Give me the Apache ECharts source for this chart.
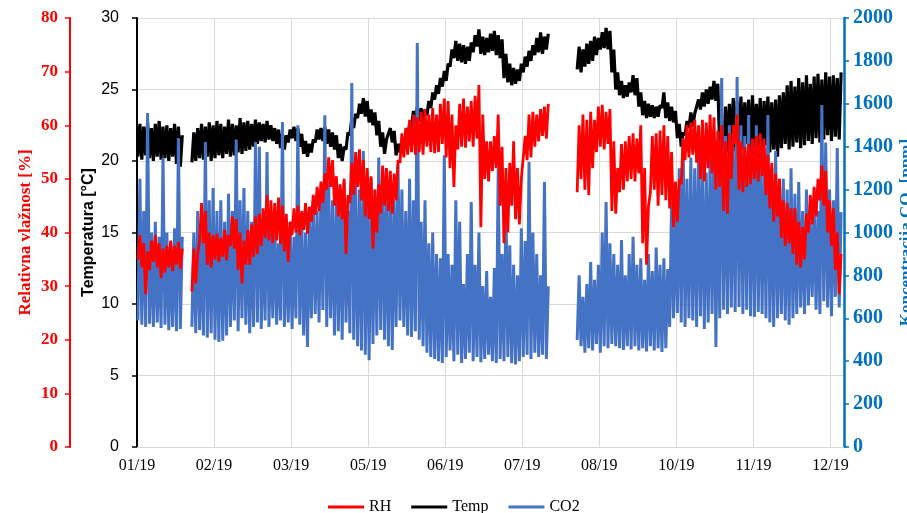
<!DOCTYPE html>
<html><head><meta charset="utf-8">
<script src="https://cdn.jsdelivr.net/npm/echarts@6/dist/echarts.min.js"></script>
<style>html,body{margin:0;padding:0;background:#fff}#c{width:907px;height:513px}</style>
</head><body><div id="c"></div>
<script>
// x axis: days since 01.01.2019, one tick every 40 days
const xTickLabels = ['01/19','02/19','03/19','05/19','06/19','07/19','08/19','10/19','11/19','12/19'];
// each index = 2-day block; low / high reading within the block
const tempLow = [
20.3,20.1,20.4,20.2,20.0,20.3,20.1,20.2,20.0,20.3,
19.8,19.6,null,null,19.9,20.0,20.2,20.1,20.3,20.0,
20.2,20.4,20.2,20.5,20.3,20.4,20.6,20.5,20.7,20.8,
21.0,21.2,21.4,21.3,21.5,21.4,21.2,20.9,20.8,21.3,
21.6,21.4,21.0,20.5,20.3,20.6,21.3,21.5,21.4,21.2,
21.0,20.8,20.2,20.0,20.8,21.8,22.3,23.0,23.3,23.1,
22.7,22.5,21.8,21.0,20.5,21.4,21.3,20.4,20.6,21.0,
21.6,22.4,22.6,22.8,22.7,23.2,23.7,24.3,24.7,25.2,
25.6,26.6,27.2,27.0,26.9,26.8,27.0,27.6,28.0,27.5,
27.4,27.6,27.7,27.4,27.2,25.8,25.5,25.3,25.4,25.6,
26.2,26.6,27.0,27.4,27.6,27.5,27.8,null,null,null,
null,null,null,null,26.4,26.2,26.6,26.8,27.0,27.4,
27.8,27.9,27.8,26.2,25.0,24.6,24.4,24.5,24.8,24.6,
23.8,23.2,23.0,23.1,23.0,23.1,23.7,23.0,22.8,22.7,
21.6,21.0,21.8,22.3,22.4,23.3,23.6,23.8,24.0,24.3,
24.2,20.9,20.8,20.6,21.0,20.7,21.0,20.8,21.2,20.5,
21.0,20.9,20.4,21.1,20.6,20.8,20.3,20.9,21.2,20.8,
21.0,21.3,20.9,21.1,21.4,21.2,21.6,21.3,21.5,21.8,
21.4,21.7,21.5];
const tempHigh = [
22.6,22.4,22.7,22.3,22.6,22.8,22.4,22.5,22.3,22.6,
22.4,21.8,null,null,22.0,22.3,22.6,22.4,22.7,22.5,
22.8,22.6,22.4,22.9,22.6,22.5,23.0,22.7,22.8,22.6,
22.9,22.7,22.6,22.8,22.5,22.3,22.2,21.9,21.8,22.2,
22.4,22.3,21.9,21.4,21.2,21.5,22.2,22.3,22.4,22.2,
22.0,21.8,21.2,21.0,22.0,23.0,23.3,24.0,24.4,24.2,
23.6,23.4,22.8,22.0,21.5,22.3,22.1,21.2,21.5,21.8,
22.6,23.5,23.8,23.7,23.6,24.2,24.8,25.3,25.8,26.3,
26.8,27.8,28.4,28.2,28.1,28.0,28.3,28.8,29.2,28.7,
28.6,28.9,29.1,28.8,28.5,27.5,26.8,26.5,26.4,26.8,
27.3,27.7,28.1,28.6,29.0,28.7,28.9,null,null,null,
null,null,null,null,28.0,27.8,28.2,28.4,28.7,28.6,
29.0,29.3,29.1,27.8,26.2,25.6,25.3,25.5,26.0,25.8,
24.8,24.2,24.0,23.9,23.8,23.9,24.8,24.1,23.8,23.5,
22.6,22.0,22.8,23.4,23.3,24.3,24.8,25.0,25.2,25.6,
25.4,22.4,23.8,24.0,24.4,24.2,24.5,24.1,24.3,24.6,
24.0,24.4,24.2,24.5,24.1,24.3,24.6,24.8,25.3,25.6,
25.2,25.8,25.5,26.0,25.4,25.9,26.1,25.7,26.2,25.9,
26.0,25.8,26.2];
const rhLow = [
35.0,33.5,28.5,33.0,34.5,33.5,31.5,32.5,33.5,32.8,
34.0,33.2,null,null,29.0,30.5,38.5,38.0,34.0,33.5,
35.0,34.5,35.5,34.8,37.5,37.0,33.0,30.5,34.0,34.0,
35.5,36.0,37.5,39.0,38.5,38.0,38.5,37.8,36.5,34.5,
39.5,40.0,39.5,40.5,39.8,42.0,43.3,44.0,45.5,48.0,
48.5,45.0,43.0,42.5,36.0,45.5,47.0,48.5,46.0,43.0,
42.5,37.0,40.0,43.5,45.0,44.0,43.5,46.0,53.0,54.0,
54.5,55.0,54.5,55.0,54.5,56.0,55.0,54.8,55.0,56.5,
54.0,52.0,48.5,55.5,56.0,55.8,57.0,56.0,57.5,41.0,
50.0,49.5,51.5,52.0,45.0,38.0,40.0,45.0,42.5,41.5,
50.0,53.5,54.0,56.0,57.0,58.0,57.5,null,null,null,
null,null,null,null,47.5,50.0,48.0,47.0,52.0,55.0,
56.0,55.5,56.5,44.0,43.5,47.5,48.0,49.5,50.0,49.5,
51.0,38.0,34.0,47.5,48.0,45.0,47.0,46.0,44.5,41.0,
42.0,49.0,53.5,54.0,54.5,53.0,50.0,49.5,52.0,51.0,
48.0,48.5,44.0,43.5,50.0,56.5,48.0,47.5,48.5,49.0,
50.0,49.5,50.5,47.0,44.5,42.0,43.0,39.0,37.5,38.0,
36.0,34.0,33.5,35.0,40.0,41.5,43.0,46.0,45.0,40.0,
37.5,33.0,28.5];
const rhHigh = [
39.5,38.0,36.5,38.5,39.5,38.0,37.0,37.5,38.5,37.5,
38.2,37.0,null,null,37.0,36.0,45.5,44.0,40.0,39.5,
39.8,39.0,40.5,39.5,43.0,42.5,40.0,38.5,40.5,41.5,
43.0,43.5,44.5,47.0,46.0,45.5,46.5,45.0,43.5,42.0,
44.5,45.0,44.0,45.5,44.8,47.0,48.5,49.5,51.0,54.0,
53.5,50.5,49.0,50.0,47.0,53.0,55.0,55.5,53.5,52.0,
50.5,48.0,49.0,52.5,52.0,51.5,51.0,53.5,58.5,59.5,
61.0,62.0,61.5,62.5,63.0,62.0,63.2,62.0,64.0,65.0,
64.5,62.0,60.0,64.0,65.0,63.5,64.5,65.5,67.5,62.0,
57.0,57.0,58.0,62.0,56.0,52.0,53.0,57.0,52.0,50.0,
58.0,62.0,62.5,62.0,63.0,63.5,64.0,null,null,null,
null,null,null,null,60.0,62.0,61.0,62.5,61.0,63.5,
63.8,62.5,63.0,57.0,52.0,56.5,57.0,58.0,58.5,57.5,
60.0,52.0,45.0,58.0,58.5,59.0,60.0,58.0,55.0,49.5,
50.0,57.5,60.0,60.5,61.0,60.0,61.0,60.5,62.0,61.5,
59.0,60.0,57.0,58.5,60.0,62.0,57.0,56.0,56.5,57.5,
58.0,58.5,57.5,54.5,53.0,51.0,50.0,46.0,45.5,44.5,
44.5,42.0,41.0,43.5,47.0,48.5,50.0,52.5,51.5,46.0,
44.5,40.0,36.0];
const co2Low = [
590,570,560,575,560,580,555,570,545,560,
540,550,null,null,560,530,545,520,510,530,
500,490,495,520,560,590,540,600,570,530,
560,580,550,590,560,600,570,590,560,580,
550,600,570,520,466,600,620,580,639,560,
600,520,540,500,580,530,500,470,450,430,
405,480,520,545,500,470,452,560,590,560,
520,513,540,500,470,440,420,410,400,392,
420,450,400,430,392,410,440,400,420,395,
410,430,400,392,410,400,420,390,385,400,
420,430,410,440,420,430,410,null,null,null,
null,null,null,null,499,470,440,460,450,480,
440,470,460,480,470,460,452,470,455,470,
450,460,445,470,450,460,443,460,560,600,
625,580,560,600,590,560,610,550,580,620,
466,600,640,620,650,630,653,620,640,610,
606,630,620,600,580,560,600,620,590,570,
600,620,650,620,660,700,640,620,680,650,
610,700,650];
const co2High = [
1250,1100,1557,1000,1050,980,1347,1000,950,1020,
1440,980,null,null,1000,1100,1000,1422,1150,1207,
1100,1150,1050,1180,1100,1433,1150,1207,1100,1050,
1422,1400,1050,1375,1000,1080,950,1515,1000,1050,
980,1500,1080,1000,1100,1150,1100,1200,1547,1235,
1150,1200,1180,1235,1100,1697,1250,1200,1380,1150,
1250,1200,1350,1300,1200,1250,1150,1315,1200,1100,
1250,1150,1883,1050,1150,950,1000,900,880,1360,
900,850,1150,1050,760,900,1142,850,1000,750,
820,700,834,1300,900,1140,940,850,800,1020,
960,1330,1000,900,800,1235,750,null,null,null,
null,null,null,null,800,700,760,862,780,850,
1000,1142,950,900,850,965,800,900,980,850,
880,780,900,820,930,850,880,830,1142,1100,
1300,1440,1250,1350,1300,1400,1320,1280,1350,1440,
1300,1720,1450,1500,1400,1725,1500,1450,1548,1400,
1500,1350,1394,1548,1300,1380,1250,1250,1200,1300,
1180,1235,1100,1200,1050,1150,1100,1594,1420,1200,
1150,1394,1095];

function zig(lo, hi) {
  const out = [];
  for (let i = 0; i < lo.length; i++) {
    out.push([2 * i + 0.5, lo[i] == null ? '-' : lo[i]]);
    out.push([2 * i + 1.5, hi[i] == null ? '-' : hi[i]]);
  }
  return out;
}

const chart = echarts.init(document.getElementById('c'));
const serif = 'Liberation Serif, Times New Roman, serif';
const sans = 'Liberation Sans, Arial, sans-serif';
chart.setOption({
  animation: false,
  backgroundColor: '#fff',
  grid: { left: 137, right: 63, top: 18, bottom: 66, containLabel: false, outerBoundsMode: 'none' },
  legend: {
    data: ['RH', 'Temp', 'CO2'], left: 323, top: 494, icon: 'rect',
    itemWidth: 36, itemHeight: 3, itemGap: 20,
    textStyle: { fontFamily: serif, fontSize: 16, color: '#000' }
  },
  xAxis: {
    type: 'value', min: 0, max: 367, interval: 40,
    axisLine: { lineStyle: { color: '#D9D9D9', width: 1 } },
    axisTick: { show: false },
    splitLine: { show: true, lineStyle: { color: '#D9D9D9', width: 1 } },
    axisLabel: {
      showMaxLabel: false, margin: 11, color: '#000', fontFamily: serif, fontSize: 16,
      formatter: v => (v % 40 === 0 ? (xTickLabels[v / 40] || '') : '')
    }
  },
  yAxis: [
    {
      type: 'value', position: 'left', offset: 0, min: 0, max: 30, interval: 5,
      name: 'Temperatura [°C]', nameLocation: 'middle', nameGap: 40, nameMoveOverlap: false,
      nameTextStyle: { color: '#000', fontFamily: sans, fontSize: 16, fontWeight: 'bold' },
      axisLine: { show: true, lineStyle: { color: '#000', width: 2 } },
      axisTick: { show: true, length: 5, lineStyle: { color: '#000', width: 1.5 } },
      axisLabel: { margin: 18, color: '#000', fontFamily: sans, fontSize: 16 },
      splitLine: { show: true, lineStyle: { color: '#D9D9D9', width: 1 } }
    },
    {
      type: 'value', position: 'left', offset: 67, min: 0, max: 80, interval: 10,
      name: 'Relativna vlažnost [%]', nameLocation: 'middle', nameGap: 36, nameMoveOverlap: false,
      nameTextStyle: { color: '#FF0000', fontFamily: serif, fontWeight: 'bold', fontSize: 17 },
      axisLine: { show: true, lineStyle: { color: '#FF0000', width: 2 } },
      axisTick: { show: true, length: 5, lineStyle: { color: '#FF0000', width: 1.5 } },
      axisLabel: { margin: 12, color: '#FF0000', fontFamily: serif, fontWeight: 'bold', fontSize: 17 },
      splitLine: { show: false }
    },
    {
      type: 'value', position: 'right', offset: 0, min: 0, max: 2000, interval: 200,
      name: 'Koncentracija CO₂ [ppm]', nameLocation: 'middle', nameGap: 54, nameMoveOverlap: false,
      nameTextStyle: { color: '#0070C0', fontFamily: serif, fontWeight: 'bold', fontSize: 17 },
      axisLine: { show: true, lineStyle: { color: '#0070C0', width: 2.5 } },
      axisTick: { show: true, length: 5, lineStyle: { color: '#0070C0', width: 1.5 } },
      axisLabel: { margin: 9, color: '#0070C0', fontFamily: serif, fontWeight: 'bold', fontSize: 20,
        formatter: v => String(v) },
      splitLine: { show: false }
    }
  ],
  series: [
    { name: 'Temp', type: 'line', yAxisIndex: 0, z: 2, symbol: 'none', data: zig(tempLow, tempHigh),
      lineStyle: { color: '#000', width: 3.2 }, itemStyle: { color: '#000' } },
    { name: 'CO2', type: 'line', yAxisIndex: 2, z: 3, symbol: 'none', data: zig(co2Low, co2High),
      lineStyle: { color: '#4472C4', width: 3 }, itemStyle: { color: '#4472C4' } },
    { name: 'RH', type: 'line', yAxisIndex: 1, z: 4, symbol: 'none', data: zig(rhLow, rhHigh),
      lineStyle: { color: '#FF0000', width: 2.8 }, itemStyle: { color: '#FF0000' } }
  ]
});
</script></body></html>
